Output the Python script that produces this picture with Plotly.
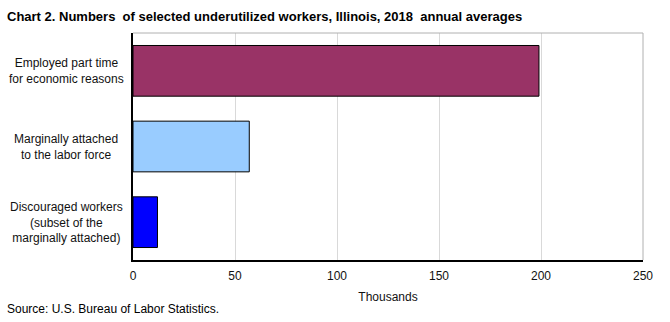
import plotly.graph_objects as go

categories = ["Employed part time<br>for economic reasons",
              "Marginally attached<br>to the labor force",
              "Discouraged workers<br>(subset of the<br>marginally attached)"]
values = [199, 57, 12]
colors = ["#993366", "#99CCFF", "#0000FF"]
x_ticks = [0, 50, 100, 150, 200, 250]

fig = go.Figure()
fig.add_trace(go.Bar(
    y=categories, x=values, orientation="h",
    marker=dict(color=colors, line=dict(color="black", width=1)),
    width=0.67,
))

fig.update_layout(
    width=670, height=322,
    margin=dict(l=133, r=27, t=33, b=62, autoexpand=False),
    paper_bgcolor="white", plot_bgcolor="white",
    font=dict(family="Arial, Liberation Sans, sans-serif", size=12, color="#111"),
    showlegend=False,
    bargap=0.33,
)
fig.update_xaxes(
    range=[0, 250], tickvals=x_ticks, showgrid=True, gridcolor="#d9d9d9",
    showline=True, linecolor="black", linewidth=1.5, mirror=False,
    ticks="", zeroline=False, fixedrange=True, automargin=False,
    ticklabelstandoff=4,
    title=dict(text="Thousands", font=dict(size=12), standoff=10),
)
fig.update_yaxes(
    autorange="reversed", showline=True, linecolor="black", linewidth=1.5,
    ticks="", showgrid=False, showticklabels=False, automargin=False,
)
for cat in categories:
    fig.add_annotation(text=cat, xref="paper", yref="y", x=-67/510, y=cat,
                       xanchor="center", yanchor="middle", align="center",
                       showarrow=False, font=dict(size=12, color="#111"))

# top and right border (gray)
fig.add_shape(type="line", xref="paper", yref="paper", x0=0, x1=1, y0=1, y1=1,
              line=dict(color="#b0b0b0", width=1))
fig.add_shape(type="line", xref="paper", yref="paper", x0=1, x1=1, y0=0, y1=1,
              line=dict(color="#b0b0b0", width=1))

fig.add_annotation(text="<b>Chart 2. Numbers  of selected underutilized workers, Illinois, 2018  annual averages</b>",
                   xref="paper", yref="paper", x=-128/510, y=1 + (33 - 16) / 227,
                   xanchor="left", yanchor="middle", showarrow=False,
                   font=dict(family="Liberation Sans Narrow, Arial Narrow, Arial, sans-serif", size=13, color="black"))
fig.add_annotation(text="Source: U.S. Bureau of Labor Statistics.",
                   xref="paper", yref="paper", x=-128/510, y=-(309 - 260) / 227,
                   xanchor="left", yanchor="middle", showarrow=False,
                   font=dict(size=12, color="black"))

fig.write_html("out.html")
